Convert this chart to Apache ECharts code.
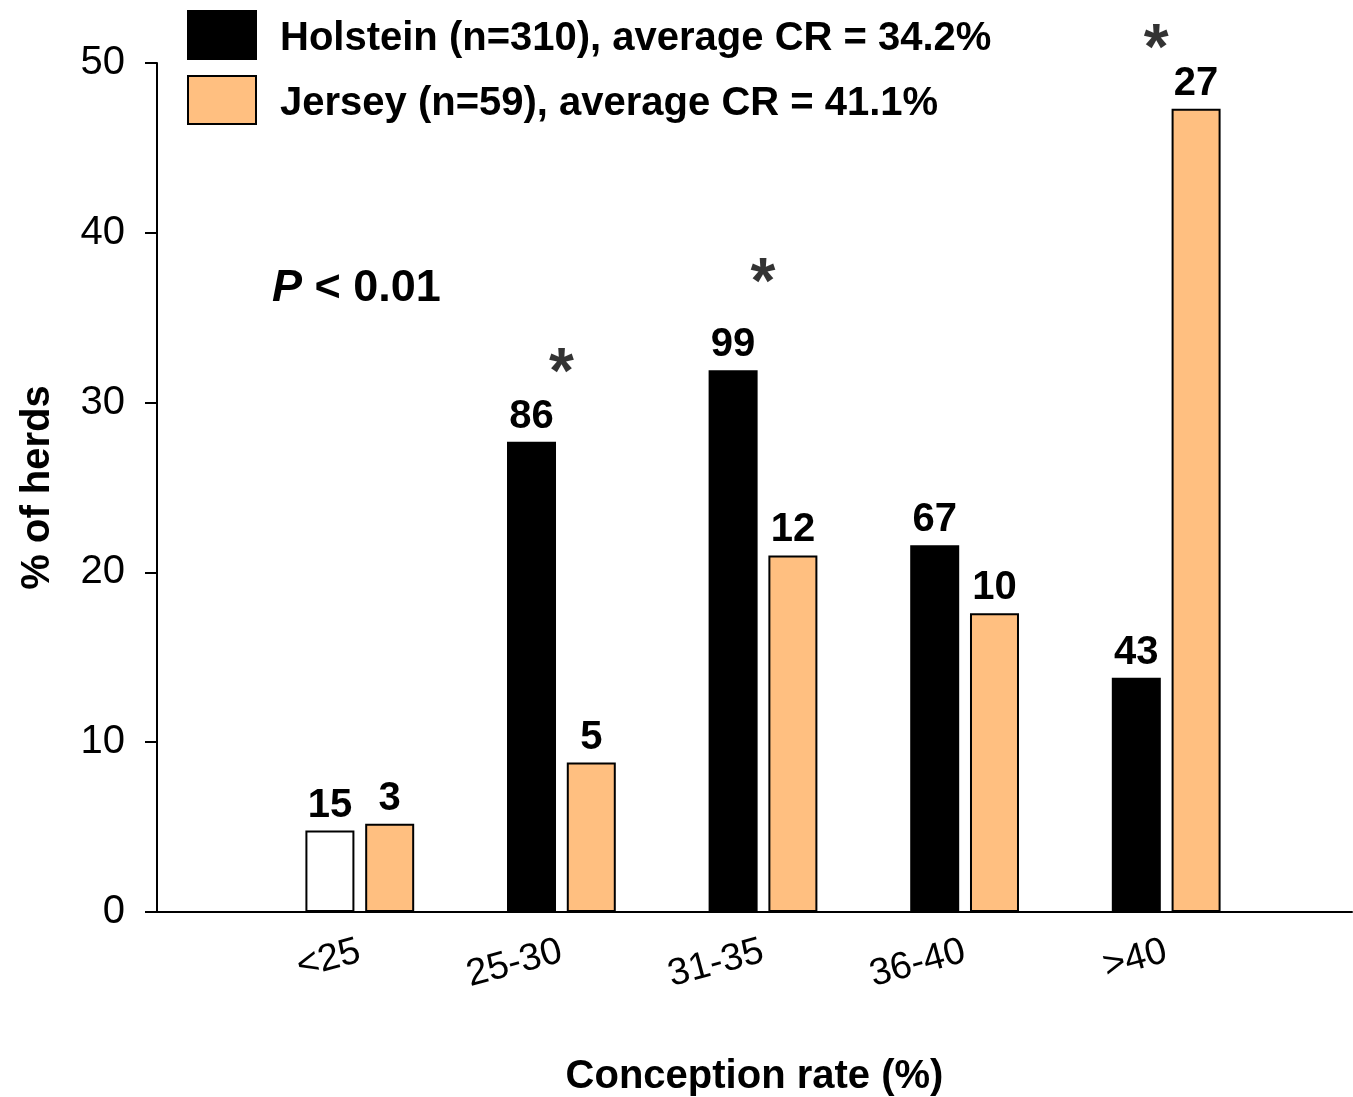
<!DOCTYPE html>
<html lang="en">
  <head>
    <meta charset="UTF-8" />
    <title>Conception rate by herd</title>
    <script src="https://cdn.jsdelivr.net/npm/echarts@6/dist/echarts.min.js"></script>
    <style>
      html, body { margin: 0; padding: 0; background: #fff; }
      #chart { width: 1353px; height: 1097px; }
    </style>
  </head>
  <body>
    <div id="chart"></div>
    <script>
      // data
      const categories = ["<25", "25-30", "31-35", "36-40", ">40"];
      const holsteinPct = [4.8, 27.7, 31.9, 21.6, 13.8];
      const jerseyPct = [5.2, 8.8, 21.0, 17.6, 47.3];
      const holsteinCount = [15, 86, 99, 67, 43];
      const jerseyCount = [3, 5, 12, 10, 27];
      // significance asterisks (y position in % units)
      const starPos = [null, 32.4, 37.7, null, 51.5];
      const yTicks = [0, 10, 20, 30, 40, 50];

      const font = "Liberation Sans, Arial, sans-serif";
      const orange = "#FFBF80";

      const chart = echarts.init(document.getElementById("chart"));

      const option = {
        backgroundColor: "#fff",
        animation: false,
        textStyle: { fontFamily: font, color: "#000" },
        legend: {
          orient: "vertical",
          left: 187,
          top: 10,
          padding: 0,
          itemWidth: 68,
          itemHeight: 48,
          itemGap: 15,
          icon: "rect",
          formatter: (name) => "{a|" + name + "}",
          textStyle: {
            color: "#000",
            rich: {
              a: {
                fontSize: 40,
                fontWeight: "bold",
                color: "#000",
                fontFamily: font,
                padding: [8, 0, 0, 19]
              }
            }
          },
          data: ["Holstein (n=310), average CR = 34.2%", "Jersey (n=59), average CR = 41.1%"]
        },
        grid: [
          { left: 157, right: 1, top: 63, bottom: 185, outerBoundsMode: "none", containLabel: false },
          { left: 259, width: 1008, top: 63, bottom: 185, outerBoundsMode: "none", containLabel: false }
        ],
        xAxis: [
          {
            gridIndex: 0,
            type: "category",
            data: ["x"],
            axisLine: { lineStyle: { color: "#000", width: 2 } },
            axisTick: { show: false },
            axisLabel: { show: false },
            name: "Conception rate (%)",
            nameLocation: "middle",
            nameGap: 145,
            nameTextStyle: { fontSize: 40, fontWeight: "bold", color: "#000", fontFamily: font }
          },
          {
            gridIndex: 1,
            type: "category",
            data: categories,
            axisLine: { show: false },
            axisTick: { alignWithLabel: true, length: 11, lineStyle: { color: "#000", width: 2 } },
            axisLabel: {
              rotate: 15,
              margin: 39,
              fontSize: 38,
              color: "#000",
              fontFamily: font
            }
          }
        ],
        yAxis: [
          {
            gridIndex: 0,
            type: "value",
            min: 0,
            max: 50,
            interval: 10,
            axisLine: { show: true, lineStyle: { color: "#000", width: 2 } },
            axisTick: { show: true, length: 12, lineStyle: { color: "#000", width: 2 } },
            axisLabel: {
              margin: 32,
              fontSize: 40,
              color: "#000",
              fontFamily: font,
              formatter: (v) => (yTicks.includes(v) ? String(v) : "")
            },
            splitLine: { show: false },
            name: "% of herds",
            nameLocation: "middle",
            nameGap: 99,
            nameTextStyle: { fontSize: 40, fontWeight: "bold", color: "#000", fontFamily: font }
          },
          {
            gridIndex: 1,
            type: "value",
            min: 0,
            max: 50,
            show: false
          }
        ],
        graphic: [
          {
            type: "text",
            left: 272,
            top: 266,
            style: {
              text: "{p|P }{t|< 0.01}",
              rich: {
                p: { fontSize: 45, fontWeight: "bold", fontStyle: "italic", fontFamily: font, fill: "#000" },
                t: { fontSize: 45, fontWeight: "bold", fontFamily: font, fill: "#000" }
              }
            }
          }
        ],
        series: [
          {
            name: "Holstein (n=310), average CR = 34.2%",
            type: "bar",
            xAxisIndex: 1,
            yAxisIndex: 1,
            barWidth: 49,
            barGap: "22%",
            itemStyle: { color: "#000", borderColor: "#000", borderWidth: 2 },
            data: holsteinPct.map((v, i) =>
              i === 0 ? { value: v, itemStyle: { color: "#fff" } } : v
            ),
            label: {
              show: true,
              position: "top",
              distance: 5,
              fontSize: 40,
              fontWeight: "bold",
              color: "#000",
              fontFamily: font,
              formatter: (p) => String(holsteinCount[p.dataIndex])
            }
          },
          {
            name: "Jersey (n=59), average CR = 41.1%",
            type: "bar",
            xAxisIndex: 1,
            yAxisIndex: 1,
            barWidth: 49,
            itemStyle: { color: orange, borderColor: "#000", borderWidth: 2 },
            data: jerseyPct,
            label: {
              show: true,
              position: "top",
              distance: 5,
              fontSize: 40,
              fontWeight: "bold",
              color: "#000",
              fontFamily: font,
              formatter: (p) => String(jerseyCount[p.dataIndex])
            }
          },
          {
            type: "scatter",
            xAxisIndex: 1,
            yAxisIndex: 1,
            symbolSize: 1,
            itemStyle: { color: "rgba(0,0,0,0)" },
            clip: false,
            silent: true,
            data: starPos.map((v, i) => {
              if (v === null) return null;
              const item = { value: [categories[i], v] };
              if (i === 4) item.label = { offset: [-10, 14] };
              return item;
            }),
            label: {
              show: true,
              position: "inside",
              formatter: "*",
              fontSize: 64,
              fontWeight: "bold",
              color: "#000",
              textBorderWidth: 0,
              fontFamily: font,
              offset: [0, 14]
            }
          }
        ]
      };

      chart.setOption(option);
    </script>
  </body>
</html>
